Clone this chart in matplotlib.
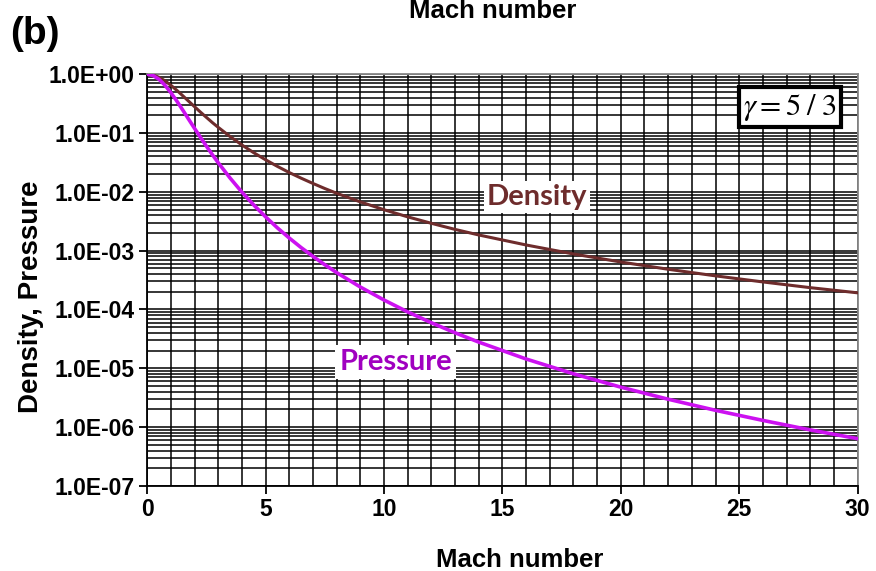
"""
Isentropic density and pressure ratios vs Mach number (gamma = 5/3), panel (b).
"""

import matplotlib
matplotlib.use("Agg")
import matplotlib.pyplot as plt
from matplotlib.ticker import FixedLocator, LogLocator, NullFormatter

# -----------------------------------------------------------------------------
# Data
# -----------------------------------------------------------------------------

mach = [0, 0.25, 0.5, 0.75, 1, 1.25, 1.5, 1.75, 2, 2.25, 2.5, 2.75, 3, 3.5,
        4, 4.5, 5, 5.5, 6, 6.5, 7, 7.5, 8, 9, 10, 11, 12, 13, 14, 16, 18,
        20, 22, 24, 26, 28, 30]
density = [1.0, 0.970, 0.887, 0.773, 0.650, 0.533, 0.432, 0.348, 0.281,
           0.227, 0.185, 0.151, 0.125, 0.0873, 0.0627, 0.0463, 0.0351,
           0.0271, 0.0213, 0.0171, 0.0139, 0.0114, 0.00947, 0.00675,
           0.00497, 0.00376, 0.00292, 0.0023, 0.00185, 0.00125, 0.000879,
           0.000642, 0.000483, 0.000373, 0.000294, 0.000235, 0.000192]
pressure = [1.0, 0.950, 0.819, 0.651, 0.487, 0.351, 0.247, 0.172, 0.120,
            0.0845, 0.0599, 0.0430, 0.0313, 0.0172, 0.0099, 0.00598,
            0.00376, 0.00244, 0.00164, 0.00113, 0.0008, 0.000577, 0.000424,
            0.000241, 0.000145, 9.1e-5, 5.95e-5, 4.02e-5, 2.79e-5, 1.44e-5,
            8.07e-6, 4.78e-6, 2.98e-6, 1.93e-6, 1.30e-6, 8.96e-7, 6.36e-7]

y_ticks = [1e0, 1e-1, 1e-2, 1e-3, 1e-4, 1e-5, 1e-6, 1e-7]
y_tick_labels = ["1.0E+00", "1.0E-01", "1.0E-02", "1.0E-03", "1.0E-04",
                 "1.0E-05", "1.0E-06", "1.0E-07"]
x_ticks = [0, 5, 10, 15, 20, 25, 30]

DENSITY_COLOR = "#6e2c2c"
PRESSURE_COLOR = "#cc11f0"
PRESSURE_TEXT = "#a000c0"

plt.rcParams["font.family"] = ["Liberation Sans", "DejaVu Sans"]

fig = plt.figure(figsize=(8.76, 5.71), dpi=100)
ax = fig.add_axes([0.168, 0.149, 0.811, 0.721])

ax.plot(mach, density, color=DENSITY_COLOR, lw=2.2, zorder=3,
        solid_joinstyle="round", solid_capstyle="round")
ax.plot(mach, pressure, color=PRESSURE_COLOR, lw=2.6, zorder=3,
        solid_joinstyle="round", solid_capstyle="round")

ax.set_yscale("log")
ax.set_xlim(0, 30)
ax.set_ylim(1e-7, 1e0)

ax.yaxis.set_major_locator(FixedLocator(y_ticks))
ax.set_yticklabels(y_tick_labels)
ax.yaxis.set_minor_locator(LogLocator(base=10, subs=range(2, 10), numticks=50))
ax.yaxis.set_minor_formatter(NullFormatter())
ax.set_xticks(x_ticks)
ax.xaxis.set_minor_locator(FixedLocator(range(0, 31)))

ax.grid(True, which="both", axis="both", color="black", lw=1.1, zorder=1)
ax.set_axisbelow(True)

for lab in ax.get_xticklabels() + ax.get_yticklabels():
    lab.set_fontweight("bold")
    lab.set_fontsize(16.5)
ax.tick_params(axis="both", which="major", length=6, width=1.3, direction="out",
               pad=3)
ax.tick_params(axis="both", which="minor", length=0)

for side in ["top", "right"]:
    ax.spines[side].set_color("#888888")
    ax.spines[side].set_linewidth(1.3)
for side in ["left", "bottom"]:
    ax.spines[side].set_color("black")
    ax.spines[side].set_linewidth(1.3)

ax.set_xlabel("Mach number", fontsize=18.5, fontweight="bold", va="baseline")
ax.xaxis.set_label_coords(0.525, -0.197)
ax.set_ylabel("Density, Pressure", fontsize=20, fontweight="bold", va="center")
ax.yaxis.set_label_coords(-0.163, 0.459)

# curve labels with white boxes
ax.text(16.46, 8.1e-3, "Density", color=DENSITY_COLOR, fontsize=21,
        fontweight="bold", family=["Lato", "DejaVu Sans"], ha="center",
        va="center", zorder=4,
        bbox=dict(facecolor="white", edgecolor="none", pad=2))
ax.text(10.5, 1.28e-5, "Pressure", color=PRESSURE_TEXT, fontsize=21,
        fontweight="bold", family=["Lato", "DejaVu Sans"], ha="center",
        va="center", zorder=4,
        bbox=dict(facecolor="white", edgecolor="none", pad=3))
ax.text(27.13, 0.275, r"$\gamma = 5\;/\;3$", fontsize=22, ha="center",
        va="center", zorder=4, math_fontfamily="stix",
        bbox=dict(facecolor="white", edgecolor="black", lw=3, pad=3))

# panel label and clipped title at top
fig.text(0.011, 0.941, "(b)", fontsize=28, fontweight="bold", va="center")
fig.text(0.562, 0.9685, "Mach number", fontsize=18.5, fontweight="bold",
         ha="center", va="baseline")

fig.savefig("out.png", dpi=100)
